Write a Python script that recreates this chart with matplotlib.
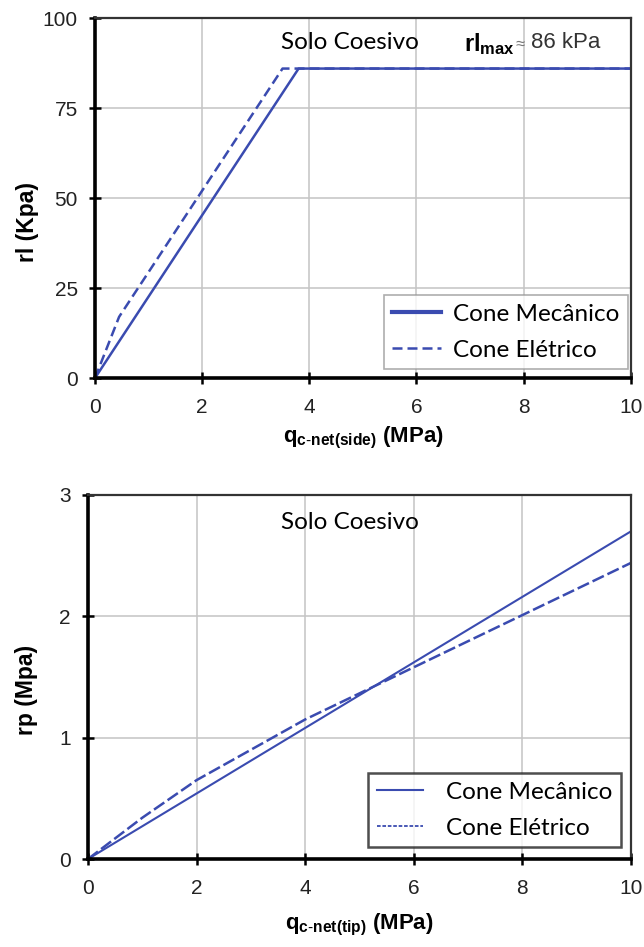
import matplotlib
matplotlib.use("Agg")
import matplotlib.pyplot as plt

# lateral resistance rl (kPa) vs qc-net(side) (MPa)
side_q_mec = [0, 3.8, 10]
side_rl_mec = [0, 86, 86]
side_q_ele = [0, 0.45, 3.5, 10]
side_rl_ele = [0, 17, 86, 86]

# tip resistance rp (MPa) vs qc-net(tip) (MPa)
tip_q_mec = [0, 10]
tip_rp_mec = [0, 2.70]
tip_q_ele = [0, 1, 2, 4, 6, 8, 10]
tip_rp_ele = [0, 0.34, 0.65, 1.15, 1.58, 2.01, 2.44]

side_yticks = [0, 25, 50, 75, 100]
tip_yticks = [0, 1, 2, 3]
xticks = [0, 2, 4, 6, 8, 10]

BLUE = "#3a4bb0"
TICK_FONT = ["Liberation Sans", "DejaVu Sans"]
LABEL_FONT = ["Liberation Sans", "DejaVu Sans"]
NOTE_FONT = ["Lato", "DejaVu Sans"]

plt.rcParams["mathtext.fontset"] = "custom"
plt.rcParams["mathtext.rm"] = "Liberation Sans"
plt.rcParams["mathtext.bf"] = "Liberation Sans:bold"
plt.rcParams["mathtext.it"] = "Liberation Sans:italic"

fig = plt.figure(figsize=(6.44, 9.47), dpi=100)
ax1 = fig.add_axes([0.1475, 0.6008, 0.832, 0.380])
ax2 = fig.add_axes([0.1366, 0.0929, 0.843, 0.3844])


def style_axes(ax, yticks, ymax):
    ax.set_xlim(0, 10)
    ax.set_ylim(0, ymax)
    ax.set_xticks(xticks)
    ax.set_yticks(yticks)
    ax.grid(True, color="#c4c4c4", linewidth=1.1)
    ax.set_axisbelow(True)
    for side in ("left", "bottom"):
        ax.spines[side].set_linewidth(2.6)
        ax.spines[side].set_color("black")
    for side in ("top", "right"):
        ax.spines[side].set_linewidth(1.6)
        ax.spines[side].set_color("#333333")
    ax.tick_params(direction="inout", length=9, width=1.8, labelsize=15,
                   colors="black")
    ax.tick_params(axis="x", pad=10)
    ax.tick_params(axis="y", pad=8)
    for lab in ax.get_xticklabels() + ax.get_yticklabels():
        lab.set_family(TICK_FONT)
        lab.set_color("#222222")


# --- top panel ---
style_axes(ax1, side_yticks, 100)
ax1.plot(side_q_mec, side_rl_mec, color=BLUE, linewidth=1.8, label="Cone Mecânico")
ax1.plot(side_q_ele, side_rl_ele, color=BLUE, linewidth=1.8, linestyle=(0, (4, 2)),
         label="Cone Elétrico")
ax1.set_ylabel("rl (Kpa)", fontsize=16.5, fontweight="bold", family=LABEL_FONT)
ax1.yaxis.set_label_coords(-0.104, 0.433)
ax1.set_xlabel(r"$\mathbf{q}_{\mathbf{c\text{-}net(side)}}$ $\mathbf{(MPa)}$",
               fontsize=16, family=LABEL_FONT)
ax1.xaxis.set_label_coords(0.5, -0.13)
ax1.text(4.76, 93.3, "Solo Coesivo", fontsize=17.5, family=NOTE_FONT,
         ha="center", va="center")
ax1.text(6.88, 92.8, r"$\mathbf{rl}_{\mathbf{max}}$", fontsize=17,
         family=LABEL_FONT, ha="left", va="center")
ax1.text(7.84, 92.6, "≈", fontsize=12, family=TICK_FONT,
         ha="left", va="center", color="#777777")
ax1.text(8.14, 93.2, "86 kPa", fontsize=16, family=TICK_FONT,
         ha="left", va="center", color="#333333")
leg1 = ax1.legend(loc="lower right", bbox_to_anchor=(0.995, 0.025),
                  prop={"family": NOTE_FONT, "size": 17.5}, frameon=True,
                  fancybox=False, handlelength=2.0, handletextpad=0.5,
                  borderpad=0.35, labelspacing=0.6, borderaxespad=0)
leg1.get_frame().set_edgecolor("#999999")
leg1.get_frame().set_linewidth(1.2)
leg1.get_lines()[0].set_linewidth(3)

# --- bottom panel ---
style_axes(ax2, tip_yticks, 3)
ax2.plot(tip_q_mec, tip_rp_mec, color=BLUE, linewidth=1.5, label="Cone Mecânico")
ax2.plot(tip_q_ele, tip_rp_ele, color=BLUE, linewidth=1.8, linestyle=(0, (5, 1.6)),
         label="Cone Elétrico")
ax2.set_ylabel("rp (Mpa)", fontsize=16.5, fontweight="bold", family=LABEL_FONT)
ax2.yaxis.set_label_coords(-0.092, 0.464)
ax2.set_xlabel(r"$\mathbf{q}_{\mathbf{c\text{-}net(tip)}}$ $\mathbf{(MPa)}$",
               fontsize=16, family=LABEL_FONT)
ax2.xaxis.set_label_coords(0.5, -0.146)
ax2.text(4.83, 2.77, "Solo Coesivo", fontsize=17.5, family=NOTE_FONT,
         ha="center", va="center")
leg2 = ax2.legend(loc="lower right", bbox_to_anchor=(0.982, 0.033),
                  prop={"family": NOTE_FONT, "size": 17.5}, frameon=True,
                  fancybox=False, handlelength=1.9, handletextpad=0.95,
                  borderpad=0.35, labelspacing=0.6, borderaxespad=0)
leg2.get_frame().set_edgecolor("#222222")
leg2.get_frame().set_linewidth(1.8)
leg2.get_lines()[1].set_linestyle((0, (2, 1)))
leg2.get_lines()[1].set_linewidth(1.3)

fig.savefig("out.png", dpi=100)
